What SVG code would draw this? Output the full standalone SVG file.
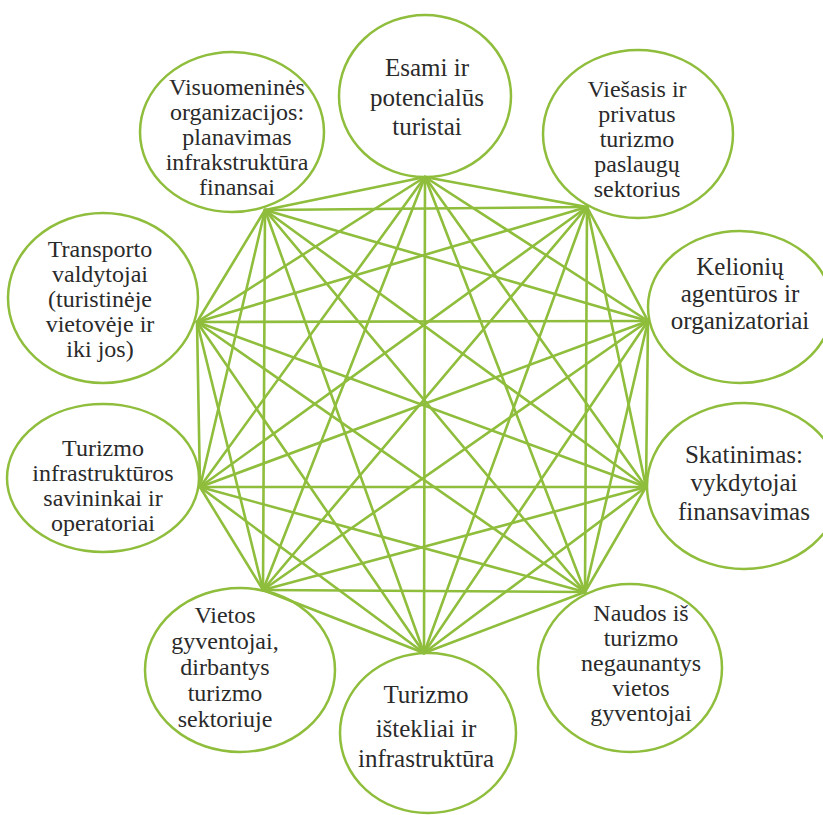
<svg xmlns="http://www.w3.org/2000/svg" width="823" height="815" viewBox="0 0 823 815">
<style>
.n ellipse{fill:#fff;stroke:#8fbd3c;stroke-width:2.5}
.n text{font-family:"Liberation Serif","Times New Roman",serif;font-size:25px;fill:#2a2a2a;text-anchor:middle}
.n.s text{font-size:24px}
#connectors line{stroke:#8fbd3c;stroke-width:2.6;stroke-linecap:round}
</style>
<rect width="823" height="815" fill="#fff"/>
<g id="n0" class="n"><ellipse cx="425" cy="96" rx="86" ry="81"/>
<text x="427" y="76">Esami ir</text><text x="427" y="106">potencialūs</text><text x="427" y="135">turistai</text></g>
<g id="n1" class="n s"><ellipse cx="638" cy="134" rx="95" ry="84"/>
<text x="637" y="97">Viešasis ir</text><text x="637" y="122">privatus</text><text x="637" y="147">turizmo</text><text x="637" y="172">paslaugų</text><text x="637" y="197">sektorius</text></g>
<g id="n2" class="n"><ellipse cx="740" cy="307" rx="92" ry="76"/>
<text x="740" y="275">Kelionių</text><text x="740" y="302">agentūros ir</text><text x="740" y="329">organizatoriai</text></g>
<g id="n3" class="n"><ellipse cx="744" cy="486" rx="97" ry="83"/>
<text x="744" y="463">Skatinimas:</text><text x="744" y="491">vykdytojai</text><text x="744" y="520">finansavimas</text></g>
<g id="n4" class="n s"><ellipse cx="630" cy="668" rx="92" ry="84"/>
<text x="641" y="621">Naudos iš</text><text x="641" y="646">turizmo</text><text x="641" y="671">negaunantys</text><text x="641" y="696">vietos</text><text x="641" y="721">gyventojai</text></g>
<g id="n5" class="n"><ellipse cx="428" cy="733" rx="88" ry="80"/>
<text x="426" y="703">Turizmo</text><text x="426" y="737">ištekliai ir</text><text x="426" y="767">infrastruktūra</text></g>
<g id="n6" class="n s"><ellipse cx="240" cy="670" rx="95" ry="82"/>
<text x="225" y="623">Vietos</text><text x="225" y="649">gyventojai,</text><text x="225" y="675">dirbantys</text><text x="225" y="701">turizmo</text><text x="225" y="727">sektoriuje</text></g>
<g id="n7" class="n s"><ellipse cx="103" cy="478" rx="96" ry="74"/>
<text x="103" y="456">Turizmo</text><text x="103" y="481">infrastruktūros</text><text x="103" y="506">savininkai ir</text><text x="103" y="531">operatoriai</text></g>
<g id="n8" class="n s"><ellipse cx="103" cy="298" rx="95" ry="85"/>
<text x="100" y="257">Transporto</text><text x="100" y="282">valdytojai</text><text x="100" y="307">(turistinėje</text><text x="100" y="332">vietovėje ir</text><text x="100" y="357">iki jos)</text></g>
<g id="n9" class="n s"><ellipse cx="232" cy="132" rx="92" ry="80"/>
<text x="237" y="95">Visuomeninės</text><text x="237" y="120">organizacijos:</text><text x="237" y="145">planavimas</text><text x="237" y="170">infrakstruktūra</text><text x="237" y="195">finansai</text></g>
<g id="connectors">
<line x1="425" y1="177" x2="587" y2="207"/><line x1="425" y1="177" x2="648" y2="321"/><line x1="425" y1="177" x2="646" y2="487"/><line x1="425" y1="177" x2="585" y2="592"/><line x1="425" y1="177" x2="424" y2="653"/><line x1="425" y1="177" x2="263" y2="590"/><line x1="425" y1="177" x2="200" y2="487"/><line x1="425" y1="177" x2="197" y2="322"/><line x1="425" y1="177" x2="265" y2="210"/>
<line x1="587" y1="207" x2="648" y2="321"/><line x1="587" y1="207" x2="646" y2="487"/><line x1="587" y1="207" x2="585" y2="592"/><line x1="587" y1="207" x2="424" y2="653"/><line x1="587" y1="207" x2="263" y2="590"/><line x1="587" y1="207" x2="200" y2="487"/><line x1="587" y1="207" x2="197" y2="322"/><line x1="587" y1="207" x2="265" y2="210"/>
<line x1="648" y1="321" x2="646" y2="487"/><line x1="648" y1="321" x2="585" y2="592"/><line x1="648" y1="321" x2="424" y2="653"/><line x1="648" y1="321" x2="263" y2="590"/><line x1="648" y1="321" x2="200" y2="487"/><line x1="648" y1="321" x2="197" y2="322"/><line x1="648" y1="321" x2="265" y2="210"/>
<line x1="646" y1="487" x2="585" y2="592"/><line x1="646" y1="487" x2="424" y2="653"/><line x1="646" y1="487" x2="263" y2="590"/><line x1="646" y1="487" x2="200" y2="487"/><line x1="646" y1="487" x2="197" y2="322"/><line x1="646" y1="487" x2="265" y2="210"/>
<line x1="585" y1="592" x2="424" y2="653"/><line x1="585" y1="592" x2="263" y2="590"/><line x1="585" y1="592" x2="200" y2="487"/><line x1="585" y1="592" x2="197" y2="322"/><line x1="585" y1="592" x2="265" y2="210"/>
<line x1="424" y1="653" x2="263" y2="590"/><line x1="424" y1="653" x2="200" y2="487"/><line x1="424" y1="653" x2="197" y2="322"/><line x1="424" y1="653" x2="265" y2="210"/>
<line x1="263" y1="590" x2="200" y2="487"/><line x1="263" y1="590" x2="197" y2="322"/><line x1="263" y1="590" x2="265" y2="210"/>
<line x1="200" y1="487" x2="197" y2="322"/><line x1="200" y1="487" x2="265" y2="210"/>
<line x1="197" y1="322" x2="265" y2="210"/>
</g>
</svg>
